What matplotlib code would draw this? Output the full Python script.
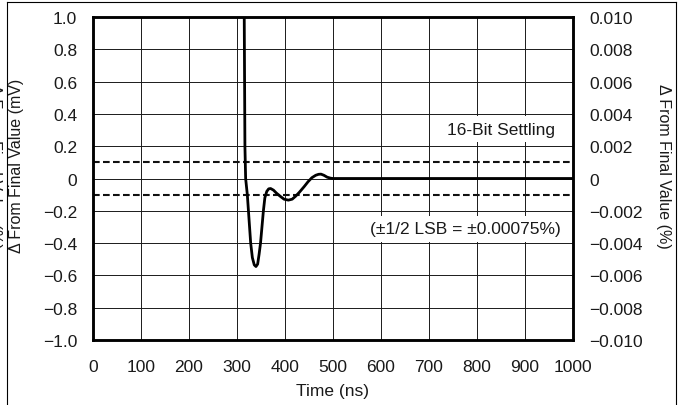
import matplotlib
matplotlib.use('Agg')
import matplotlib.pyplot as plt
from matplotlib.lines import Line2D

plt.rcParams['font.family'] = ['Liberation Sans', 'DejaVu Sans']

# ---- data ----
time_ns = [315, 316.5, 318, 321.5, 325, 328.5, 332, 336, 339.5,
           343, 346, 349, 352, 355, 358, 362, 366, 370, 376, 382, 390, 398, 407,
           415, 422, 430, 440, 448, 456, 464, 470, 475, 481, 488, 495, 500, 1000]
delta_mv = [1.05, 0.2, 0.0, -0.1, -0.25, -0.4, -0.49, -0.535, -0.545,
            -0.53, -0.47, -0.4, -0.3, -0.2, -0.12, -0.08, -0.064, -0.062, -0.072, -0.09, -0.11, -0.128, -0.134,
            -0.128, -0.11, -0.085, -0.05, -0.02, 0.005, 0.02, 0.026, 0.027, 0.02, 0.008, 0.002, 0.0, 0.0]

x_ticks = [0, 100, 200, 300, 400, 500, 600, 700, 800, 900, 1000]
x_tick_labels = ['0', '100', '200', '300', '400', '500', '600', '700', '800', '900', '1000']
left_ticks = [1.0, 0.8, 0.6, 0.4, 0.2, 0.0, -0.2, -0.4, -0.6, -0.8, -1.0]
left_tick_labels = ['1.0', '0.8', '0.6', '0.4', '0.2', '0', '\u22120.2', '\u22120.4',
                    '\u22120.6', '\u22120.8', '\u22121.0']
right_ticks = [0.010, 0.008, 0.006, 0.004, 0.002, 0.0, -0.002, -0.004, -0.006, -0.008, -0.010]
right_tick_labels = ['0.010', '0.008', '0.006', '0.004', '0.002', '0', '\u22120.002', '\u22120.004',
                     '\u22120.006', '\u22120.008', '\u22120.010']
lsb_band = [0.1, -0.1]

FS = 12.5
LFS = 11.5
TXT = '#1a1a1a'

# ---- figure ----
W, H = 682, 406
fig = plt.figure(figsize=(W / 100, H / 100), dpi=100)
ax = fig.add_axes([93 / W, 1 - 341 / H, 480 / W, 323 / H])
ax.set_xlim(0, 1000)
ax.set_ylim(-1, 1)
ax.set_xticks(x_ticks)
ax.set_xticklabels(x_tick_labels)
ax.set_yticks(left_ticks)
ax.set_yticklabels(left_tick_labels)
ax.set_axisbelow(True)
ax.grid(True, color='#1a1a1a', lw=0.7)
ax.tick_params(length=0, labelsize=FS, colors=TXT)
ax.tick_params(axis='y', pad=11.5)
ax.tick_params(axis='x', pad=13.5)

for v in lsb_band:
    ax.axhline(v, color='#111111', lw=1.5, dashes=(3.2, 1.6), zorder=2)

ax.plot(time_ns, delta_mv, color='black', lw=2.0, solid_joinstyle='round', zorder=3)

for s in ax.spines.values():
    s.set_linewidth(1.8)

ax2 = ax.twinx()
ax2.set_ylim(-0.01, 0.01)
ax2.set_yticks(right_ticks)
ax2.set_yticklabels(right_tick_labels)
ax2.tick_params(length=0, labelsize=FS, colors=TXT, pad=11.5)
for s in ax2.spines.values():
    s.set_linewidth(1.8)

box = dict(facecolor='white', edgecolor='none', pad=4.0)
ax.text(851, 0.305, '16-Bit Settling', ha='center', va='center', fontsize=FS,
        color=TXT, bbox=box, zorder=4)
ax.text(776, -0.31, '(\u00b11/2 LSB = \u00b10.00075%)', ha='center', va='center', fontsize=FS,
        color=TXT, bbox=box, zorder=4)

fig.text(17 / W, 1 - 166 / H, '\u0394 From Final Value (mV)', rotation=90,
         ha='center', va='center', fontsize=LFS, color=TXT)
fig.text(664 / W, 1 - 166 / H, '\u0394 From Final Value (%)', rotation=-90,
         ha='center', va='center', fontsize=LFS, color=TXT)
fig.text(-6 / W, 1 - 166 / H, '\u0394 From Final Value (%)', rotation=-90,
         ha='center', va='center', fontsize=LFS, color=TXT)
fig.text(333 / W, 1 - 392 / H, 'Time (ns)', ha='center', va='center',
         fontsize=FS, color=TXT)

# outer frame
for xs, ys in [([7 / W, 7 / W], [0, 1 - 3 / H]),
               ([676 / W, 676 / W], [0, 1 - 3 / H]),
               ([7 / W, 676 / W], [1 - 3 / H, 1 - 3 / H])]:
    fig.add_artist(Line2D(xs, ys, color='black', lw=0.8, transform=fig.transFigure))

fig.savefig('out.png', dpi=100)
